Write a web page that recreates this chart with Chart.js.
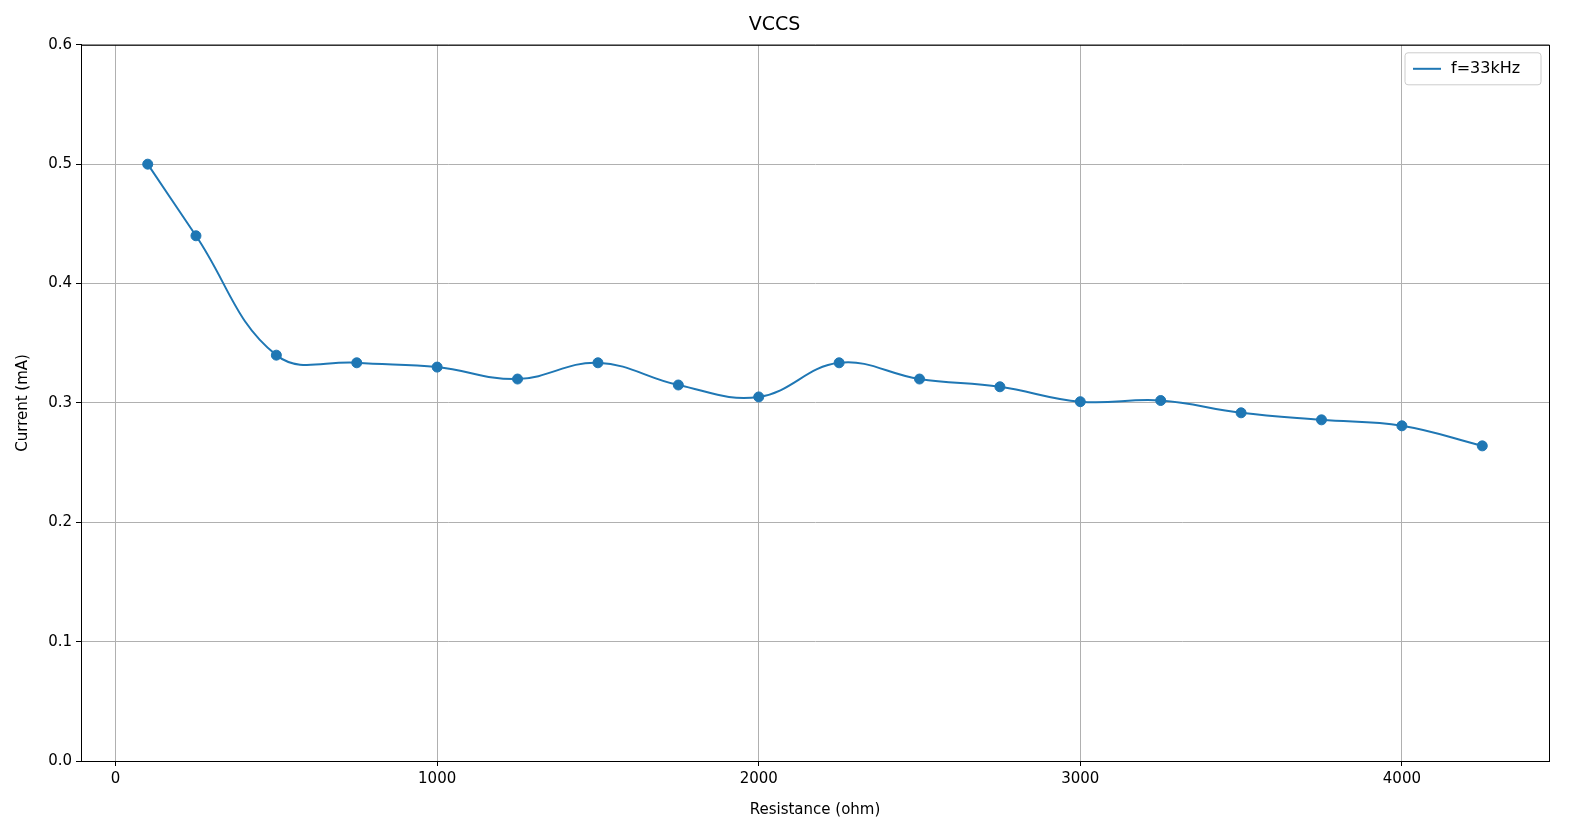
<!DOCTYPE html>
<html><head><meta charset="utf-8">
<script src="https://cdn.jsdelivr.net/npm/chart.js@4"></script>
<style>html,body{margin:0;padding:0;background:#fff;overflow:hidden}#w{position:absolute;left:0;top:0;width:1589px;height:823px}</style></head>
<body><div id="w"><canvas id="c"></canvas></div>
<script>
const resistance=[100,250,500,750,1000,1250,1500,1750,2000,2250,2500,2750,3000,3250,3500,3750,4000,4250];
const current=[0.5,0.44,0.34,0.3336,0.330,0.320,0.3336,0.315,0.305,0.3336,0.320,0.3135,0.301,0.302,0.2917,0.2858,0.2808,0.264];
const xTicks=[0,1000,2000,3000,4000];
const yTicks=[0,0.1,0.2,0.3,0.4,0.5,0.6];
const seriesLabel='f=33kHz';
const pts=resistance.map((x,i)=>({x,y:current[i]}));
const C='#1f77b4';
const frame={id:'frame',afterDraw(ch){const a=ch.chartArea,g=ch.ctx;g.save();g.strokeStyle='#000';g.lineWidth=1;g.strokeRect(a.left+0.5,a.top+0.5,a.right-a.left,a.bottom-a.top);
const w=136,h=32,x=a.right-8-w,y=a.top+8;g.fillStyle='rgba(255,255,255,0.8)';g.strokeStyle='#ccc';g.beginPath();g.roundRect(x,y,w,h,3);g.fill();g.stroke();
g.strokeStyle=C;g.lineWidth=2;g.beginPath();g.moveTo(x+8,y+16);g.lineTo(x+36,y+16);g.stroke();
g.fillStyle='#000';g.font='16px "DejaVu Sans"';g.textBaseline='middle';g.fillText(seriesLabel,x+46,y+16);g.restore();}};
new Chart(document.getElementById('c'),{type:'scatter',
data:{datasets:[{label:seriesLabel,data:pts,showLine:true,borderColor:C,borderWidth:2,pointRadius:0,tension:0.4},
{label:'pts',data:pts,showLine:false,pointRadius:5,backgroundColor:C,borderColor:C}]},
options:{responsive:true,maintainAspectRatio:false,animation:false,
layout:{padding:{left:0,right:40,top:0,bottom:0}},
plugins:{legend:{display:false},tooltip:{enabled:false},
title:{display:true,text:'VCCS',color:'#000',font:{family:'DejaVu Sans',size:19,weight:'normal'},padding:{top:14,bottom:8}}},
scales:{
x:{type:'linear',min:-107.5,max:4457.5,afterBuildTicks:s=>{s.ticks=xTicks.map(v=>({value:v}))},afterFit:s=>{s.height=62},
grid:{color:'#b0b0b0',drawTicks:true,tickLength:5,tickColor:'#000'},border:{color:'#000'},
ticks:{color:'#000',font:{family:'DejaVu Sans',size:15},padding:4,maxRotation:0,callback:v=>String(v)},
title:{display:true,text:'Resistance (ohm)',color:'#000',font:{family:'DejaVu Sans',size:15},padding:{top:4}}},
y:{min:0,max:0.6,afterBuildTicks:s=>{s.ticks=yTicks.map(v=>({value:v}))},afterFit:s=>{s.width=81},
grid:{color:'#b0b0b0',tickLength:5,tickColor:'#000'},border:{color:'#000'},
ticks:{color:'#000',font:{family:'DejaVu Sans',size:15},padding:4,callback:v=>v.toFixed(1)},
title:{display:true,text:'Current (mA)',color:'#000',font:{family:'DejaVu Sans',size:15},padding:{top:14,bottom:4}}}}},
plugins:[frame]});
</script></body></html>
